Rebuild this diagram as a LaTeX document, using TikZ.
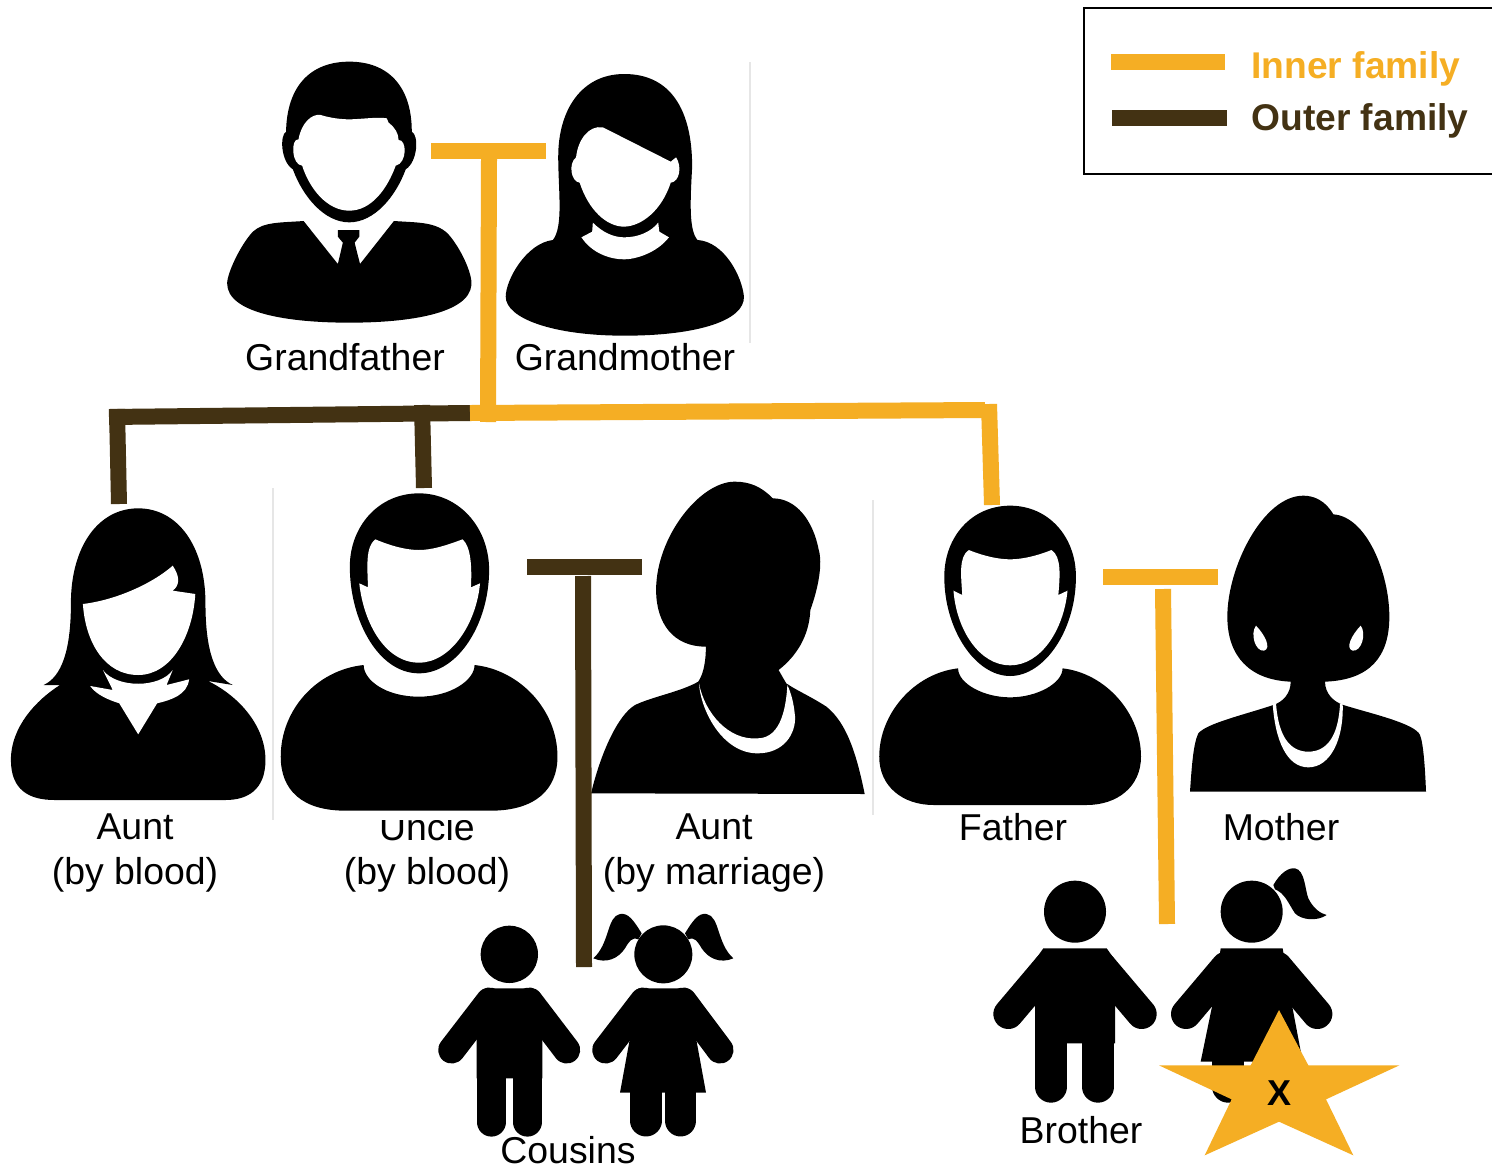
\documentclass[tikz,border=0pt]{standalone}
\usepackage{fontspec}
\setmainfont{Liberation Sans}
\definecolor{innerc}{HTML}{F5AE24}
\definecolor{outerc}{HTML}{433213}
\definecolor{rulec}{HTML}{E6E6E6}
\tikzset{
  sil/.style={fill=black},
  gap/.style={fill=white},
  innerbar/.style={draw=innerc,line width=8pt},
  outerbar/.style={draw=outerc,line width=8pt},
  seam/.style={draw=rulec,line width=0.8pt},
  limb/.style={draw=black,line cap=round},
  lab/.style={font=\fontsize{18.7}{22.3}\selectfont,text=black,inner sep=0pt,align=center},
  legtext/.style={font=\fontsize{18.6}{22}\selectfont\bfseries,inner sep=0pt,anchor=base west},
}
\begin{document}
\begin{tikzpicture}[x=0.5pt,y=-0.5pt]
\useasboundingbox (0,0) rectangle (1492,1173);
\fill[white] (0,0) rectangle (1492,1173);

% seams
\coordinate (s1a) at (750,62); \coordinate (s1b) at (750,343);
\coordinate (s2a) at (273,488); \coordinate (s2b) at (273,820);
\coordinate (s3a) at (873,500); \coordinate (s3b) at (873,815);
\draw[seam] (s1a)--(s1b); \draw[seam] (s2a)--(s2b); \draw[seam] (s3a)--(s3b);

% labels under figures
\node[lab,anchor=base] (lgf) at (345,370) {Grandfather};
\node[lab,anchor=base] (lgm) at (625,370) {Grandmother};
\node[lab] (lab) at (135,853) {Aunt\\(by blood)};
\node[lab] (lub) at (427,853) {Uncle\\(by blood)};
\node[lab] (lam) at (714,853) {Aunt\\(by marriage)};
\node[lab,anchor=base] (lfa) at (1013,840) {Father};
\node[lab,anchor=base] (lmo) at (1281,840) {Mother};
\node[lab,anchor=base] (lbr) at (1081,1143) {Brother};
\node[lab,anchor=base] (lco) at (568,1163) {Cousins};

% Grandfather
\begin{scope}[shift={(210,50)},xscale=0.35714,yscale=0.33333]
\fill[sil] (262,513) -- (358,642) -- (372,578) -- (358,560) -- (358,540) -- (418,540) -- (418,560) -- (405,578) -- (420,642) -- (515,513)
 .. controls (580,518) and (630,515) .. (665,550) .. controls (700,590) and (735,670) .. (732,705)
 .. controls (725,790) and (560,818) .. (390,818) .. controls (220,818) and (48,790) .. (48,700)
 .. controls (48,670) and (85,585) .. (120,545) .. controls (150,515) and (200,518) .. (262,513) -- cycle;
\fill[sil] (390,35) .. controls (280,35) and (215,110) .. (213,245)
 .. controls (195,255) and (198,335) .. (232,358)
 .. controls (260,440) and (320,517) .. (390,517)
 .. controls (460,517) and (520,440) .. (548,358)
 .. controls (582,335) and (585,255) .. (565,245)
 .. controls (565,110) and (500,35) .. (390,35) -- cycle;
\fill[gap] (248,268) .. controls (255,220) and (285,190) .. (310,195)
 .. controls (340,205) and (370,208) .. (390,208) .. controls (420,208) and (470,200) .. (495,205) -- (500,218)
 .. controls (520,235) and (527,250) .. (528,270)
 .. controls (552,268) and (552,340) .. (520,347)
 .. controls (495,420) and (450,482) .. (390,482)
 .. controls (330,482) and (280,420) .. (258,347)
 .. controls (228,345) and (225,265) .. (248,268) -- cycle;
\end{scope}

% Grandmother
\begin{scope}[shift={(210,50)},xscale=0.35714,yscale=0.33333]
\fill[sil] (960,570) .. controls (885,580) and (828,690) .. (828,740)
 .. controls (828,805) and (960,857) .. (1160,857)
 .. controls (1370,857) and (1497,810) .. (1495,740)
 .. controls (1490,680) and (1440,575) .. (1365,570)
 .. controls (1340,540) and (1345,450) .. (1350,350)
 .. controls (1350,180) and (1290,72) .. (1160,72)
 .. controls (1040,72) and (975,180) .. (975,320)
 .. controls (975,420) and (990,530) .. (960,570) -- cycle;
\fill[gap] (1025,322) .. controls (1030,270) and (1060,225) .. (1100,232) -- (1290,335) -- (1305,322)
 .. controls (1322,350) and (1315,395) .. (1290,398)
 .. controls (1265,480) and (1210,528) .. (1160,530)
 .. controls (1110,530) and (1060,480) .. (1035,398)
 .. controls (1010,395) and (1003,340) .. (1025,322) -- cycle;
\fill[gap] (1072,518) .. controls (1100,548) and (1130,562) .. (1160,562)
 .. controls (1200,562) and (1235,545) .. (1255,518) -- (1258,545) -- (1285,562)
 .. controls (1250,610) and (1190,628) .. (1160,628)
 .. controls (1120,628) and (1070,610) .. (1040,562) -- (1070,545) -- cycle;
\end{scope}

% Aunt (by blood)
\begin{scope}[shift={(0,470)},xscale=0.36364,yscale=0.33333]
\fill[sil] (30,870) .. controls (30,960) and (80,990) .. (150,990) -- (620,990)
 .. controls (680,990) and (730,960) .. (730,870)
 .. controls (730,770) and (660,680) .. (572,633) -- (640,645)
 .. controls (590,620) and (565,540) .. (565,400)
 .. controls (565,230) and (490,115) .. (380,115)
 .. controls (270,115) and (195,230) .. (195,400)
 .. controls (195,540) and (170,620) .. (120,645) -- (165,645)
 .. controls (100,690) and (30,770) .. (30,870) -- cycle;
\fill[gap] (228,402) .. controls (320,390) and (420,340) .. (475,287)
 .. controls (495,320) and (495,345) .. (475,362) -- (537,372)
 .. controls (530,500) and (470,615) .. (380,615)
 .. controls (290,615) and (235,520) .. (228,402) -- cycle;
\fill[gap] (283,600) .. controls (320,655) and (440,655) .. (475,600) -- (458,645) -- (520,628)
 .. controls (515,675) and (470,690) .. (432,700) -- (380,793) -- (328,700)
 .. controls (300,690) and (265,675) .. (248,648) -- (310,660) -- cycle;
\end{scope}

% Uncle: its picture's white margin clips the top of the label
\fill[white] (300,805) rectangle (560,820);
\begin{scope}[shift={(0,470)},xscale=0.36364,yscale=0.33333]
\fill[sil] (1000,585) .. controls (870,600) and (772,720) .. (772,860)
 .. controls (772,960) and (830,1022) .. (950,1022) -- (1350,1022)
 .. controls (1470,1022) and (1533,960) .. (1533,860)
 .. controls (1533,720) and (1430,600) .. (1305,585)
 .. controls (1305,630) and (1240,680) .. (1152,680)
 .. controls (1060,680) and (1000,630) .. (1000,585) -- cycle;
\fill[sil] (1152,70) .. controls (1260,70) and (1345,170) .. (1345,300)
 .. controls (1345,460) and (1260,610) .. (1152,610)
 .. controls (1040,610) and (962,450) .. (962,290)
 .. controls (962,170) and (1040,70) .. (1152,70) -- cycle;
\fill[gap] (1032,208) .. controls (1080,230) and (1120,240) .. (1152,240)
 .. controls (1190,240) and (1230,225) .. (1272,208)
 .. controls (1295,230) and (1298,290) .. (1295,352) -- (1320,340)
 .. controls (1310,460) and (1240,578) .. (1152,578)
 .. controls (1060,578) and (1000,460) .. (988,340) -- (1012,352)
 .. controls (1010,290) and (1005,230) .. (1032,208) -- cycle;
\end{scope}

% Aunt (by marriage)
\begin{scope}[shift={(570,470)},xscale=0.38270,yscale=0.33333]
\fill[sil] (55,970) -- (770,972)
 .. controls (750,860) and (725,760) .. (670,710)
 .. controls (630,680) and (590,660) .. (565,640) -- (545,600)
 .. controls (590,560) and (625,500) .. (628,420)
 .. controls (650,350) and (660,280) .. (650,240)
 .. controls (635,150) and (590,85) .. (530,85)
 .. controls (500,50) and (470,35) .. (430,35)
 .. controls (340,35) and (225,200) .. (225,360)
 .. controls (225,460) and (270,530) .. (355,530)
 .. controls (355,570) and (350,610) .. (335,635)
 .. controls (290,665) and (215,680) .. (170,705)
 .. controls (125,735) and (80,850) .. (55,970) -- cycle;
\fill[gap] (337,640) .. controls (342,725) and (400,850) .. (490,850)
 .. controls (560,850) and (590,790) .. (588,740)
 .. controls (585,700) and (578,670) .. (568,645)
 .. controls (565,700) and (555,805) .. (490,805)
 .. controls (415,812) and (352,730) .. (337,640) -- cycle;
\end{scope}

% Father
\begin{scope}[shift={(570,470)},xscale=0.38270,yscale=0.33333]
\fill[sil] (1014,595) .. controls (900,610) and (808,730) .. (808,860)
 .. controls (808,950) and (870,1005) .. (950,1005) -- (1350,1005)
 .. controls (1430,1005) and (1492,950) .. (1492,860)
 .. controls (1492,730) and (1400,610) .. (1287,595)
 .. controls (1287,640) and (1220,682) .. (1150,682)
 .. controls (1080,682) and (1014,640) .. (1014,595) -- cycle;
\fill[sil] (1150,107) .. controls (1250,107) and (1322,200) .. (1322,320)
 .. controls (1322,480) and (1240,618) .. (1150,618)
 .. controls (1060,618) and (978,480) .. (978,320)
 .. controls (978,200) and (1050,107) .. (1150,107) -- cycle;
\fill[gap] (1042,240) .. controls (1080,258) and (1120,268) .. (1150,268)
 .. controls (1180,268) and (1220,258) .. (1258,240)
 .. controls (1285,260) and (1280,320) .. (1276,375) -- (1300,362)
 .. controls (1290,480) and (1230,586) .. (1150,586)
 .. controls (1070,586) and (1010,480) .. (1002,362) -- (1025,375)
 .. controls (1022,320) and (1015,260) .. (1042,240) -- cycle;
\end{scope}

% Mother
\begin{scope}[shift={(1170,480)},scale=0.33333]
\fill[sil] (60,935) -- (768,935)
 .. controls (765,860) and (760,790) .. (750,765)
 .. controls (735,730) and (600,700) .. (520,675)
 .. controls (490,665) and (465,640) .. (465,605)
 .. controls (600,600) and (658,530) .. (658,410)
 .. controls (658,280) and (590,110) .. (490,103)
 .. controls (465,60) and (430,47) .. (400,47)
 .. controls (280,47) and (172,260) .. (172,410)
 .. controls (172,530) and (240,600) .. (362,605)
 .. controls (362,640) and (340,665) .. (310,675)
 .. controls (220,705) and (110,730) .. (85,760)
 .. controls (70,790) and (65,860) .. (60,935) -- cycle;
\fill[gap] (308,670) .. controls (315,780) and (350,862) .. (415,862)
 .. controls (480,862) and (522,780) .. (518,670) -- (510,672)
 .. controls (505,770) and (470,815) .. (415,815)
 .. controls (360,815) and (325,770) .. (318,670) -- cycle;
\fill[gap] (258,437) .. controls (240,460) and (255,515) .. (282,512)
 .. controls (305,505) and (285,465) .. (258,437) -- cycle;
\fill[gap] (572,437) .. controls (590,460) and (575,515) .. (548,512)
 .. controls (525,505) and (545,465) .. (572,437) -- cycle;
\end{scope}

% Cousin boy
\begin{scope}[shift={(430,900)},scale=0.33333]
\fill[sil] (238,163) circle [radius=86];
\draw[limb,line width=13.5pt] (65,450) -- (178,303);
\draw[limb,line width=13.5pt] (410,450) -- (298,303);
\fill[sil] (165,265) -- (310,265) -- (337,300) -- (337,535) -- (140,535) -- (140,300) -- cycle;
\draw[limb,line width=14.6pt] (184,500) -- (184,666);
\draw[limb,line width=14.6pt] (292,500) -- (292,666);
\end{scope}

% Cousin girl
\begin{scope}[shift={(430,900)},scale=0.33333]
\fill[sil] (700,163) circle [radius=87];
\fill[sil] (635,100) .. controls (610,60) and (595,38) .. (570,42)
 .. controls (530,50) and (540,130) .. (490,175)
 .. controls (530,192) and (565,175) .. (585,145)
 .. controls (597,125) and (605,110) .. (625,118) -- cycle;
\fill[sil] (765,100) .. controls (790,60) and (805,38) .. (830,42)
 .. controls (870,50) and (860,130) .. (910,175)
 .. controls (870,192) and (835,175) .. (815,145)
 .. controls (803,125) and (795,110) .. (775,118) -- cycle;
\draw[limb,line width=13.5pt] (527,450) -- (640,303);
\draw[limb,line width=13.5pt] (870,450) -- (760,303);
\fill[sil] (625,265) -- (775,265) -- (800,425) -- (828,578) -- (570,578) -- (598,425) -- cycle;
\draw[limb,line width=15.8pt] (648,560) -- (648,662);
\draw[limb,line width=15.8pt] (752,560) -- (752,662);
\end{scope}

% Brother
\begin{scope}[shift={(980,860)},scale=0.33333]
\fill[sil] (285,155) circle [radius=93];
\draw[limb,line width=15pt] (85,462) -- (205,320);
\draw[limb,line width=15pt] (485,462) -- (365,320);
\fill[sil] (190,265) -- (380,265) -- (405,300) -- (405,550) -- (165,550) -- (165,300) -- cycle;
\draw[limb,line width=16pt] (213,520) -- (213,680);
\draw[limb,line width=16pt] (354,520) -- (354,680);
\end{scope}

% Sister
\begin{scope}[shift={(980,860)},scale=0.33333]
\fill[sil] (815,155) circle [radius=93];
\fill[sil] (880,75) .. controls (900,40) and (925,22) .. (945,25)
 .. controls (975,30) and (975,90) .. (985,115)
 .. controls (1000,145) and (1020,160) .. (1040,165)
 .. controls (1010,185) and (965,180) .. (945,160)
 .. controls (925,130) and (915,100) .. (885,88) -- cycle;
\draw[limb,line width=15pt] (618,462) -- (738,320);
\draw[limb,line width=15pt] (1012,462) -- (892,320);
\fill[sil] (722,265) -- (908,265) -- (935,430) -- (968,605) -- (662,605) -- (698,430) -- cycle;
\draw[limb,line width=16pt] (745,590) -- (745,680);
\end{scope}

% Star with the x
\begin{scope}[shift={(980,860)},scale=0.33333]
\fill[innerc] (897,450) -- (985,616) -- (1258,616) -- (1038,718) -- (1120,886) -- (897,785) -- (674,886) -- (755,718) -- (537,616) -- (812,616) -- cycle;
\node[inner sep=0pt,font=\fontsize{18}{20}\selectfont\bfseries,text=black] (self) at (897,700) {X};
\end{scope}

% Connectors
\coordinate (gA) at (431,151); \coordinate (gB) at (546,151);
\coordinate (gT) at (489,159); \coordinate (gD) at (488,422);
\draw[innerbar] (gA)--(gB);
\draw[innerbar] (gT)--(gD);
\coordinate (hL) at (109,417); \coordinate (hM) at (470,413); \coordinate (hR) at (985,410);
\draw[outerbar] (hL)--(hM);
\draw[innerbar] (hM)--(hR);
\coordinate (d1a) at (117,409); \coordinate (d1b) at (119,504);
\coordinate (d2a) at (422,405); \coordinate (d2b) at (424,488);
\coordinate (d3a) at (989,404); \coordinate (d3b) at (992,505);
\draw[outerbar] (d1a)--(d1b);
\draw[outerbar] (d2a)--(d2b);
\draw[innerbar] (d3a)--(d3b);
\coordinate (uA) at (527,567); \coordinate (uB) at (642,567);
\coordinate (uT) at (583,576); \coordinate (uD) at (584,967);
\draw[outerbar] (uA)--(uB);
\draw[outerbar] (uT)--(uD);
\coordinate (fA) at (1103,577); \coordinate (fB) at (1218,577);
\coordinate (fT) at (1163,589); \coordinate (fD) at (1167,924);
\draw[innerbar] (fA)--(fB);
\draw[innerbar] (fT)--(fD);

% Legend
\coordinate (b1) at (1492,8); \coordinate (b2) at (1084,8); \coordinate (b3) at (1084,174); \coordinate (b4) at (1492,174);
\draw[black,line width=1pt] (b1)--(b2)--(b3)--(b4);
\coordinate (i1) at (1111,62); \coordinate (i2) at (1225,62);
\coordinate (o1) at (1112,118); \coordinate (o2) at (1227,118);
\draw[innerbar] (i1)--(i2);
\draw[outerbar] (o1)--(o2);
\node[legtext,text=innerc] (tin) at (1251,78) {Inner family};
\node[legtext,text=outerc] (tout) at (1251,130) {Outer family};
\end{tikzpicture}
\end{document}
